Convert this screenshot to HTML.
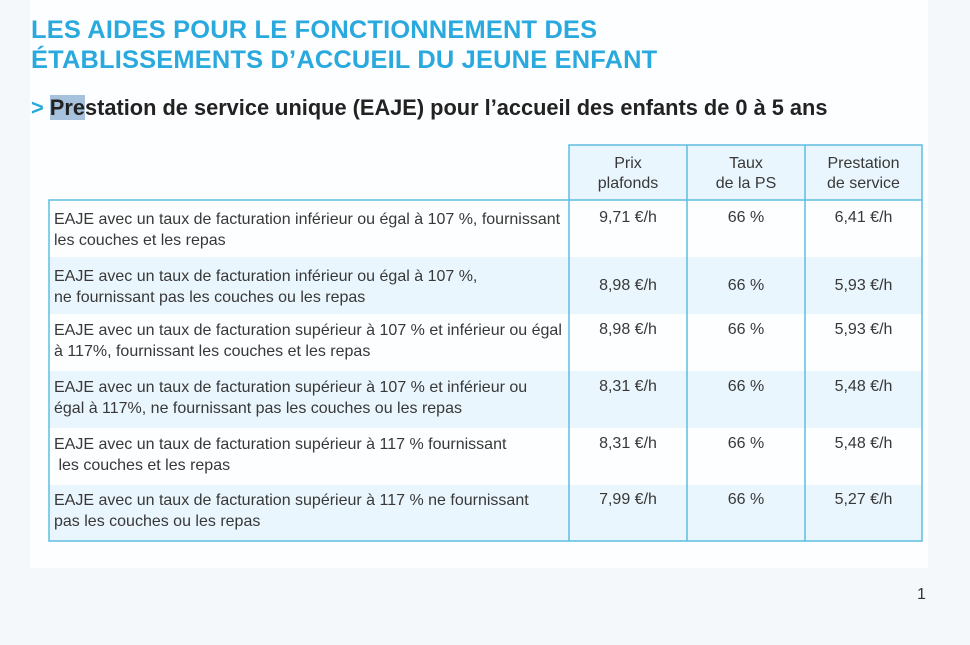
<!DOCTYPE html>
<html><head><meta charset="utf-8"><style>
body{margin:0;width:970px;height:645px;background:#f4f8fb;font-family:"Liberation Sans",sans-serif;position:relative;overflow:hidden}
.panel{position:absolute;left:30px;top:0;width:898px;height:568px;background:#fdfeff}
.t{position:absolute;left:31px;top:15px;color:#29a9dd;font-weight:bold;font-size:25.4px;line-height:30px;letter-spacing:0.2px}
.s{position:absolute;left:31px;top:95px;font-size:21.8px;font-weight:bold;color:#222}
.s .g{color:#29a9dd}
.s .h{background:#a7c2dc}
.c{position:absolute;box-sizing:border-box;font-size:16px;color:#383838;line-height:21px;white-space:nowrap}
.num{text-align:center;padding-top:6px}
.hd{text-align:center;padding-top:4px;line-height:20px}
.lab{padding:8px 0 0 5px}
.page{position:absolute;left:917px;top:586px;font-size:16px;color:#333}
</style></head><body>
<div class="panel"></div>
<div class="t">LES AIDES POUR LE FONCTIONNEMENT DES<br>ÉTABLISSEMENTS D’ACCUEIL DU JEUNE ENFANT</div>
<div class="s"><span class="g">&gt;</span> <span class="h">Pre</span>station de service unique (EAJE) pour l’accueil des enfants de 0 à 5 ans</div>
<svg style="position:absolute;left:0;top:0" width="970" height="645">
<rect x="49" y="257" width="873" height="57" fill="#eaf6fd"/>
<rect x="49" y="371" width="873" height="57" fill="#eaf6fd"/>
<rect x="49" y="485" width="873" height="56" fill="#eaf6fd"/>
<rect x="569" y="145" width="353" height="55" fill="#eaf6fd"/>
<g stroke="#5cbde2" stroke-width="1.5" fill="none">
<polyline points="569,200 569,145 922,145 922,541 49,541 49,200 922,200"/>
<line x1="569" y1="200" x2="569" y2="541"/>
<line x1="687" y1="145" x2="687" y2="541"/>
<line x1="805" y1="145" x2="805" y2="541"/>
</g>
</svg>
<div class="c hd" style="left:569px;top:150px;width:118px">Prix<br>plafonds</div>
<div class="c hd" style="left:687px;top:150px;width:118px">Taux<br>de la PS</div>
<div class="c hd" style="left:805px;top:150px;width:117px">Prestation<br>de service</div>

<div class="c lab" style="left:49px;top:201px">EAJE avec un taux de facturation inférieur ou égal à 107 %, fournissant<br>les couches et les repas</div>
<div class="c num" style="left:569px;top:201px;width:118px">9,71 €/h</div>
<div class="c num" style="left:687px;top:201px;width:118px">66 %</div>
<div class="c num" style="left:805px;top:201px;width:117px">6,41 €/h</div>

<div class="c lab" style="left:49px;top:258px">EAJE avec un taux de facturation inférieur ou égal à 107 %,<br>ne fournissant pas les couches ou les repas</div>
<div class="c num" style="left:569px;top:269px;width:118px">8,98 €/h</div>
<div class="c num" style="left:687px;top:269px;width:118px">66 %</div>
<div class="c num" style="left:805px;top:269px;width:117px">5,93 €/h</div>

<div class="c lab" style="left:49px;top:312px">EAJE avec un taux de facturation supérieur à 107 % et inférieur ou égal<br>à 117%, fournissant les couches et les repas</div>
<div class="c num" style="left:569px;top:313px;width:118px">8,98 €/h</div>
<div class="c num" style="left:687px;top:313px;width:118px">66 %</div>
<div class="c num" style="left:805px;top:313px;width:117px">5,93 €/h</div>

<div class="c lab" style="left:49px;top:369px">EAJE avec un taux de facturation supérieur à 107 % et inférieur ou<br>égal à 117%, ne fournissant pas les couches ou les repas</div>
<div class="c num" style="left:569px;top:370px;width:118px">8,31 €/h</div>
<div class="c num" style="left:687px;top:370px;width:118px">66 %</div>
<div class="c num" style="left:805px;top:370px;width:117px">5,48 €/h</div>

<div class="c lab" style="left:49px;top:426px">EAJE avec un taux de facturation supérieur à 117 % fournissant<br>&nbsp;les couches et les repas</div>
<div class="c num" style="left:569px;top:427px;width:118px">8,31 €/h</div>
<div class="c num" style="left:687px;top:427px;width:118px">66 %</div>
<div class="c num" style="left:805px;top:427px;width:117px">5,48 €/h</div>

<div class="c lab" style="left:49px;top:482px">EAJE avec un taux de facturation supérieur à 117 % ne fournissant<br>pas les couches ou les repas</div>
<div class="c num" style="left:569px;top:483px;width:118px">7,99 €/h</div>
<div class="c num" style="left:687px;top:483px;width:118px">66 %</div>
<div class="c num" style="left:805px;top:483px;width:117px">5,27 €/h</div>

<div class="page">1</div>
</body></html>
